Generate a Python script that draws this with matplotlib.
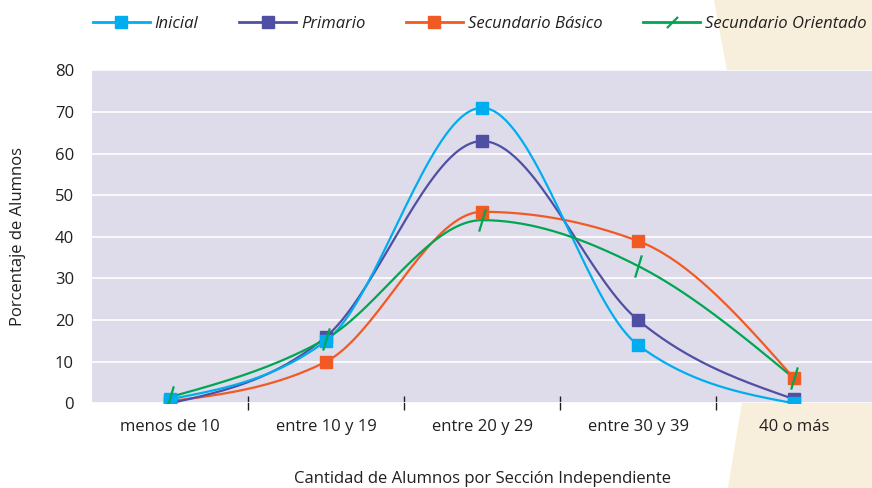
import numpy as np
import matplotlib.pyplot as plt
from matplotlib.lines import Line2D
from matplotlib.patches import Polygon
from matplotlib.path import Path

plt.rcParams["font.family"] = ["Open Sans", "DejaVu Sans"]

# data
categorias = ["menos de 10", "entre 10 y 19", "entre 20 y 29", "entre 30 y 39", "40 o más"]
inicial = [1, 15, 71, 14, 0]
primario = [0, 16, 63, 20, 1]
sec_basico = [0.5, 10, 46, 39, 6]
sec_orientado = [1.5, 15.5, 44, 33, 6]

series_nombres = ["Inicial", "Primario", "Secundario Básico", "Secundario Orientado"]
colores = ["#00AEEF", "#4F4FA3", "#F15A22", "#00A651"]


# monotone cubic through the points (same idea as d3 curveMonotoneX)
def suave(x, y, n=40):
    x = np.asarray(x, float)
    y = np.asarray(y, float)
    m = len(x)
    t = np.zeros(m)
    for i in range(1, m - 1):
        h0 = x[i] - x[i - 1]
        h1 = x[i + 1] - x[i]
        s0 = (y[i] - y[i - 1]) / h0
        s1 = (y[i + 1] - y[i]) / h1
        p = (s0 * h1 + s1 * h0) / (h0 + h1)
        t[i] = (np.sign(s0) + np.sign(s1)) * min(abs(s0), abs(s1), 0.5 * abs(p))
    t[0] = (3 * (y[1] - y[0]) / (x[1] - x[0]) - t[1]) / 2
    t[-1] = (3 * (y[-1] - y[-2]) / (x[-1] - x[-2]) - t[-2]) / 2

    xs, ys = [], []
    u = np.linspace(0, 1, n)
    for i in range(m - 1):
        h = x[i + 1] - x[i]
        h00 = 2 * u ** 3 - 3 * u ** 2 + 1
        h10 = u ** 3 - 2 * u ** 2 + u
        h01 = -2 * u ** 3 + 3 * u ** 2
        h11 = u ** 3 - u ** 2
        xs.append(x[i] + u * h)
        ys.append(h00 * y[i] + h10 * h * t[i] + h01 * y[i + 1] + h11 * h * t[i + 1])
    return np.concatenate(xs), np.concatenate(ys)


# slash markers
barra = Path([(-0.3, -1), (0.3, 1)], [Path.MOVETO, Path.LINETO])
barra_leyenda = Path([(-1, -1), (1, 1)], [Path.MOVETO, Path.LINETO])

fig = plt.figure(figsize=(8.72, 4.88), dpi=100)

# beige corner shapes behind everything
fig.patches.append(Polygon([(714 / 872, 1), (1, 1), (1, 0.8), (732 / 872, 0.8)],
                           closed=True, transform=fig.transFigure,
                           facecolor="#F7EEDB", edgecolor="none", zorder=-1))
fig.patches.append(Polygon([(744 / 872, 0.2), (1, 0.2), (1, 0), (728 / 872, 0)],
                           closed=True, transform=fig.transFigure,
                           facecolor="#F7EEDB", edgecolor="none", zorder=-1))

ax = fig.add_axes([92 / 872, 1 - 403.3 / 488, 1 - 92 / 872, 333 / 488])
ax.set_facecolor("#DEDBEB")

x = np.arange(len(categorias))
datos = [inicial, primario, sec_basico, sec_orientado]
orden_z = [4, 3, 2, 5]

for y, c, z in zip(datos, colores, orden_z):
    xs, ys = suave(x, y)
    ax.plot(xs, ys, color=c, lw=1.6, zorder=z, solid_capstyle="round")

# markers on top of the lines
ax.plot(x, primario, ls="none", marker="s", ms=8.5, color=colores[1], zorder=6)
ax.plot(x, sec_basico, ls="none", marker="s", ms=8.5, color=colores[2], zorder=6)
ax.plot(x, inicial, ls="none", marker="s", ms=8.5, color=colores[0], zorder=7)
ax.plot(x, sec_orientado, ls="none", marker=barra, ms=16, mew=1.6,
        color=colores[3], zorder=8)

ax.set_xlim(-0.5, 4.5)
ax.set_ylim(0, 80)
ax.set_yticks(np.arange(0, 81, 10))
ax.grid(axis="y", color="white", lw=1.2)
ax.set_axisbelow(True)
for s in ax.spines.values():
    s.set_visible(False)

ax.set_xticks(x)
ax.set_xticklabels(categorias)
ax.set_xticks(np.arange(0.5, 4, 1), minor=True)
ax.tick_params(axis="x", which="major", length=0, pad=11, labelsize=12,
               colors="#231F20")
ax.tick_params(axis="x", which="minor", direction="inout", length=10,
               width=1, color="#231F20")
ax.tick_params(axis="y", length=0, pad=13, labelsize=12, colors="#231F20")

fig.text(18 / 872, 1 - 237 / 488, "Porcentaje de Alumnos", rotation=90,
         ha="center", va="center", fontsize=12, color="#231F20")
fig.text(482 / 872, 1 - 479 / 488, "Cantidad de Alumnos por Sección Independiente",
         ha="center", va="center", fontsize=12, color="#231F20")

# legend
handles = []
for i, (n, c) in enumerate(zip(series_nombres, colores)):
    if i == 3:
        h = Line2D([], [], color=c, lw=2, marker=barra_leyenda, ms=8, mew=1.6)
    else:
        h = Line2D([], [], color=c, lw=2, marker="s", ms=8.5)
    handles.append(h)
leg = fig.legend(handles, series_nombres, loc="center left",
                 bbox_to_anchor=(93 / 872, 1 - 24 / 488), ncol=4, frameon=False,
                 borderpad=0, borderaxespad=0,
                 handlelength=3.4, handletextpad=0.3, columnspacing=2.45,
                 prop={"style": "italic", "size": 12})
for t in leg.get_texts():
    t.set_color("#231F20")

fig.savefig("out.png", dpi=100)
